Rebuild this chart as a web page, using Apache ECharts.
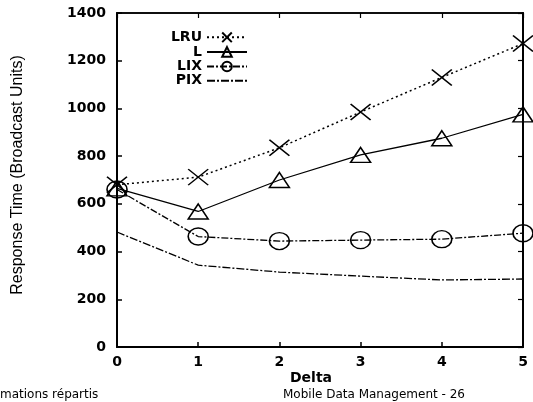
<!DOCTYPE html>
<html>
<head>
<meta charset="utf-8">
<script src="https://cdn.jsdelivr.net/npm/echarts@6/dist/echarts.min.js"></script>
<style>html,body{margin:0;padding:0;background:#fff;}#c{width:533px;height:402px;}</style>
</head>
<body>
<div id="c"></div>
<script>
const categories = [0, 1, 2, 3, 4, 5];
const xTickLabels = ['0', '1', '2', '3', '4', '5'];
const lru = [680, 712, 835, 985, 1130, 1272];
const lVals = [665, 568, 700, 805, 875, 975];
const lix = [660, 463, 444, 448, 452, 477];
const pix = [482, 343, 314, 297, 281, 285];
const seriesNames = ['LRU', 'L', 'LIX', 'PIX'];

const chart = echarts.init(document.getElementById('c'));
const font = 'DejaVu Sans';
const xSym = 'path://M0 0L10 8M10 0L0 8';

function pairs(vals) { return categories.map((c, i) => [c, vals[i]]); }

chart.setOption({
  animation: false,
  backgroundColor: '#fff',
  grid: { left: 117, right: 10, top: 13, bottom: 55, show: true, borderColor: '#000', borderWidth: 1.5, backgroundColor: 'transparent' },
  xAxis: [{
    type: 'value', min: 0, max: 5, interval: 1,
    axisLine: { show: true, onZero: false, lineStyle: { color: '#000', width: 2 } },
    axisTick: { show: true, inside: true, length: 5, lineStyle: { color: '#000', width: 1.5 } },
    axisLabel: { color: '#000', fontFamily: font, fontWeight: 'bold', fontSize: 14, margin: 8,
      formatter: v => xTickLabels[Math.round(v)] },
    splitLine: { show: false }
  }, {
    type: 'value', position: 'top', min: 0, max: 5, interval: 1,
    axisLine: { show: true, onZero: false, lineStyle: { color: '#000', width: 1.5 } },
    axisTick: { show: true, inside: true, length: 5, lineStyle: { color: '#000', width: 1.2 } },
    axisLabel: { show: false }, splitLine: { show: false }
  }],
  yAxis: [{
    type: 'value', min: 0, max: 1400, interval: 200,
    axisLine: { show: true, onZero: false, lineStyle: { color: '#000', width: 2 } },
    axisTick: { show: true, inside: true, length: 5, lineStyle: { color: '#000', width: 1.5 } },
    axisLabel: { color: '#000', fontFamily: font, fontWeight: 'bold', fontSize: 14, margin: 11,
      formatter: v => String(v) },
    splitLine: { show: false }
  }, {
    type: 'value', position: 'right', min: 0, max: 1400, interval: 200,
    axisLine: { show: true, onZero: false, lineStyle: { color: '#000', width: 2 } },
    axisTick: { show: true, inside: true, length: 5, lineStyle: { color: '#000', width: 1.2 } },
    axisLabel: { show: false }, splitLine: { show: false }
  }],
  legend: {
    orient: 'vertical', align: 'right', right: 280, top: 25,
    itemWidth: 40, itemHeight: 12, itemGap: 0,
    textStyle: { color: '#000', fontFamily: font, fontSize: 14, fontWeight: 'bold', padding: [0, 0, 0, 0] },
    data: ['LRU', 'L', 'LIX', { name: 'PIX', itemStyle: { opacity: 0 } }]
  },
  series: [
    { name: 'LRU', type: 'line', data: pairs(lru), symbol: xSym, symbolSize: [20, 16],
      lineStyle: { color: '#000', width: 1.5, type: [2, 3] },
      itemStyle: { color: 'none', borderColor: '#000', borderWidth: 1.5 } },
    { name: 'L', type: 'line', data: pairs(lVals), symbol: 'triangle', symbolSize: [20, 15],
      lineStyle: { color: '#000', width: 1.3, type: 'solid' },
      itemStyle: { color: 'none', borderColor: '#000', borderWidth: 1.5 } },
    { name: 'LIX', type: 'line', data: pairs(lix), symbol: 'circle', symbolSize: [20, 17],
      lineStyle: { color: '#000', width: 1.3, type: [7, 2, 2, 2] },
      itemStyle: { color: 'none', borderColor: '#000', borderWidth: 1.5 } },
    { name: 'PIX', type: 'line', data: pairs(pix), symbol: 'none',
      lineStyle: { color: '#000', width: 1.3, type: [8, 2, 2, 2] },
      itemStyle: { color: '#000' } },
    { name: 'frame', type: 'line', xAxisIndex: 1, yAxisIndex: 1, data: [], silent: true }
  ],
  graphic: [
    { type: 'text', x: 18, y: 175, rotation: Math.PI / 2,
      style: { text: 'Response Time (Broadcast Units)', fill: '#000', font: '16px "Liberation Sans"',
        align: 'center', verticalAlign: 'middle' } },
    { type: 'text', x: 311, y: 378,
      style: { text: 'Delta', fill: '#000', font: 'bold 14px "DejaVu Sans"', align: 'center', verticalAlign: 'middle' } },
    { type: 'text', x: 283, y: 395,
      style: { text: 'Mobile Data Management - 26', fill: '#000', font: '12px "DejaVu Sans"', align: 'left', verticalAlign: 'middle' } },
    { type: 'text', x: 0, y: 395,
      style: { text: 'mations répartis', fill: '#000', font: '12px "DejaVu Sans"', align: 'left', verticalAlign: 'middle' } }
  ]
});
</script>
</body>
</html>
